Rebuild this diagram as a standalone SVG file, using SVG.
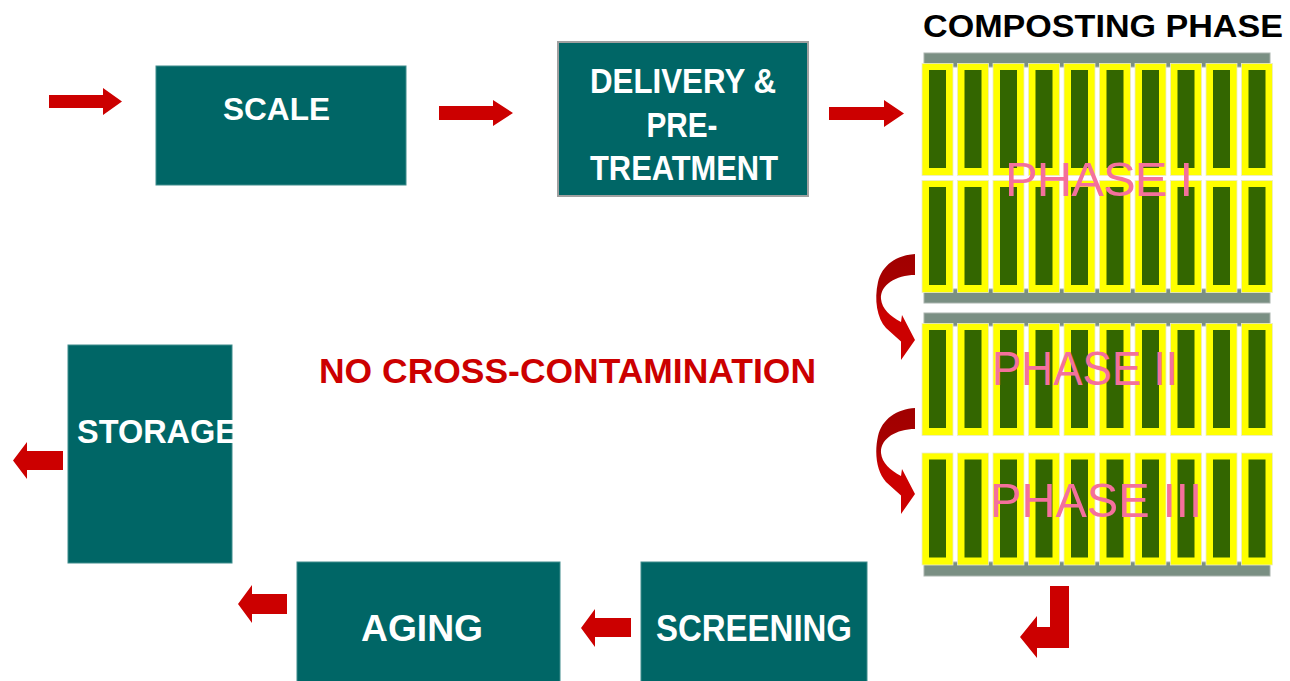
<svg xmlns="http://www.w3.org/2000/svg" xmlns:xlink="http://www.w3.org/1999/xlink" width="1290" height="681" viewBox="0 0 1290 681">
<style>
.box{fill:#006666;stroke:#3f8c8c;stroke-width:1}
.lbl{font-family:"Liberation Sans",Arial,sans-serif;font-weight:bold;fill:#ffffff}
.arr{fill:#cc0000}
.bar{fill:#7a8f83;stroke:#a9b3ad;stroke-width:1}
.ph{font-family:"Liberation Sans",Arial,sans-serif;font-weight:normal;fill:#f4709c;font-size:49px}
</style>
<defs>
<g id="cell">
<rect x="0" y="0" width="31" height="112" fill="#ffff00" stroke="#ecebc8" stroke-width="0.8"/>
<rect x="7" y="6.5" width="17" height="98" fill="#336600"/>
</g>
<g id="row">
<use xlink:href="#cell" x="0"/>
<use xlink:href="#cell" x="35.5"/>
<use xlink:href="#cell" x="71"/>
<use xlink:href="#cell" x="106.5"/>
<use xlink:href="#cell" x="142"/>
<use xlink:href="#cell" x="177.5"/>
<use xlink:href="#cell" x="213"/>
<use xlink:href="#cell" x="248.5"/>
<use xlink:href="#cell" x="284"/>
<use xlink:href="#cell" x="319.5"/>
</g>
<linearGradient id="curveGrad" x1="0" y1="0" x2="0" y2="1">
<stop offset="0" stop-color="#a00000"/>
<stop offset="0.38" stop-color="#a80000"/>
<stop offset="0.56" stop-color="#cc0000"/>
<stop offset="1" stop-color="#cc0000"/>
</linearGradient>
<path id="curve" d="M915,254 C897,255 882,265 878,282 C874,300 877,318 886,328 L901,341.5 L901,360 L915,340 L902,315 L901,322 C890,316 882,309 881,299 C880,285 896,275 915,275 Z"/>
</defs>
<rect width="1290" height="681" fill="#ffffff"/>

<g id="scale">
<rect class="box" x="156" y="66" width="250" height="119"/>
<text class="lbl" x="276.5" y="120" font-size="32" text-anchor="middle" textLength="107" lengthAdjust="spacingAndGlyphs">SCALE</text>
</g>

<g id="delivery">
<rect x="558" y="42" width="250" height="154" fill="#006666" stroke="#a0a0a0" stroke-width="2"/>
<text class="lbl" x="683" y="93" font-size="35" text-anchor="middle" textLength="186" lengthAdjust="spacingAndGlyphs">DELIVERY &amp;</text>
<text class="lbl" x="682" y="137" font-size="35" text-anchor="middle" textLength="71" lengthAdjust="spacingAndGlyphs">PRE-</text>
<text class="lbl" x="684" y="180" font-size="35" text-anchor="middle" textLength="188" lengthAdjust="spacingAndGlyphs">TREATMENT</text>
</g>

<g id="composting">
<text x="923" y="37" font-family="'Liberation Sans',Arial,sans-serif" font-weight="bold" font-size="31" fill="#000000" textLength="360" lengthAdjust="spacingAndGlyphs">COMPOSTING PHASE</text>
<g id="phase-1">
<rect class="bar" x="924" y="53" width="346" height="14"/>
<rect class="bar" x="924" y="289" width="346" height="14"/>
<use xlink:href="#row" x="922" y="63.5"/>
<use xlink:href="#row" x="922" y="180.5"/>
<text class="ph" x="1005" y="196" textLength="188" lengthAdjust="spacing">PHASE I</text>
</g>
<g id="phase-2">
<rect class="bar" x="924" y="313" width="346" height="13"/>
<use xlink:href="#row" x="922" y="323.5"/>
<text class="ph" x="992" y="385" textLength="186" lengthAdjust="spacingAndGlyphs">PHASE II</text>
</g>
<g id="phase-3">
<rect class="bar" x="924" y="562" width="346" height="14"/>
<use xlink:href="#row" x="922" y="453"/>
<text class="ph" x="990" y="517" textLength="212" lengthAdjust="spacingAndGlyphs">PHASE III</text>
</g>
</g>

<g id="no-cross">
<text x="319" y="383" font-family="'Liberation Sans',Arial,sans-serif" font-weight="bold" font-size="35" fill="#cc0000" textLength="497" lengthAdjust="spacingAndGlyphs">NO CROSS-CONTAMINATION</text>
</g>

<g id="storage">
<rect class="box" x="68" y="345" width="164" height="218"/>
<text class="lbl" x="77" y="443" font-size="33" textLength="160" lengthAdjust="spacingAndGlyphs">STORAGE</text>
</g>

<g id="aging">
<rect class="box" x="297" y="562" width="263" height="125"/>
<text class="lbl" x="422" y="641" font-size="36" text-anchor="middle" textLength="122" lengthAdjust="spacingAndGlyphs">AGING</text>
</g>

<g id="screening">
<rect class="box" x="641" y="562" width="226" height="125"/>
<text class="lbl" x="754" y="641" font-size="36" text-anchor="middle" textLength="196" lengthAdjust="spacingAndGlyphs">SCREENING</text>
</g>

<g id="connectors">
<path class="arr" d="M49,95 H103 V88 L122,101.5 L103,115 V108 H49 Z"/>
<path class="arr" d="M439,106 H493 V100 L513,113 L493,126 V120 H439 Z"/>
<path class="arr" d="M829,107 H884 V100 L904,113.5 L884,127 V120 H829 Z"/>
<use xlink:href="#curve" fill="url(#curveGrad)"/>
<use xlink:href="#curve" fill="url(#curveGrad)" transform="translate(0,154)"/>
<path class="arr" d="M1050,586 L1069,586 L1069,648 L1037,648 L1037,658 L1020,637 L1037,616 L1037,627 L1050,627 Z"/>
<path class="arr" d="M631,618 H595 V609 L581,628 L595,647 V637 H631 Z"/>
<path class="arr" d="M287,594 H252 V585 L238,604 L252,623 V614 H287 Z"/>
<path class="arr" d="M63,451 H27 V442 L13,460.5 L27,479 V470 H63 Z"/>
</g>
</svg>
